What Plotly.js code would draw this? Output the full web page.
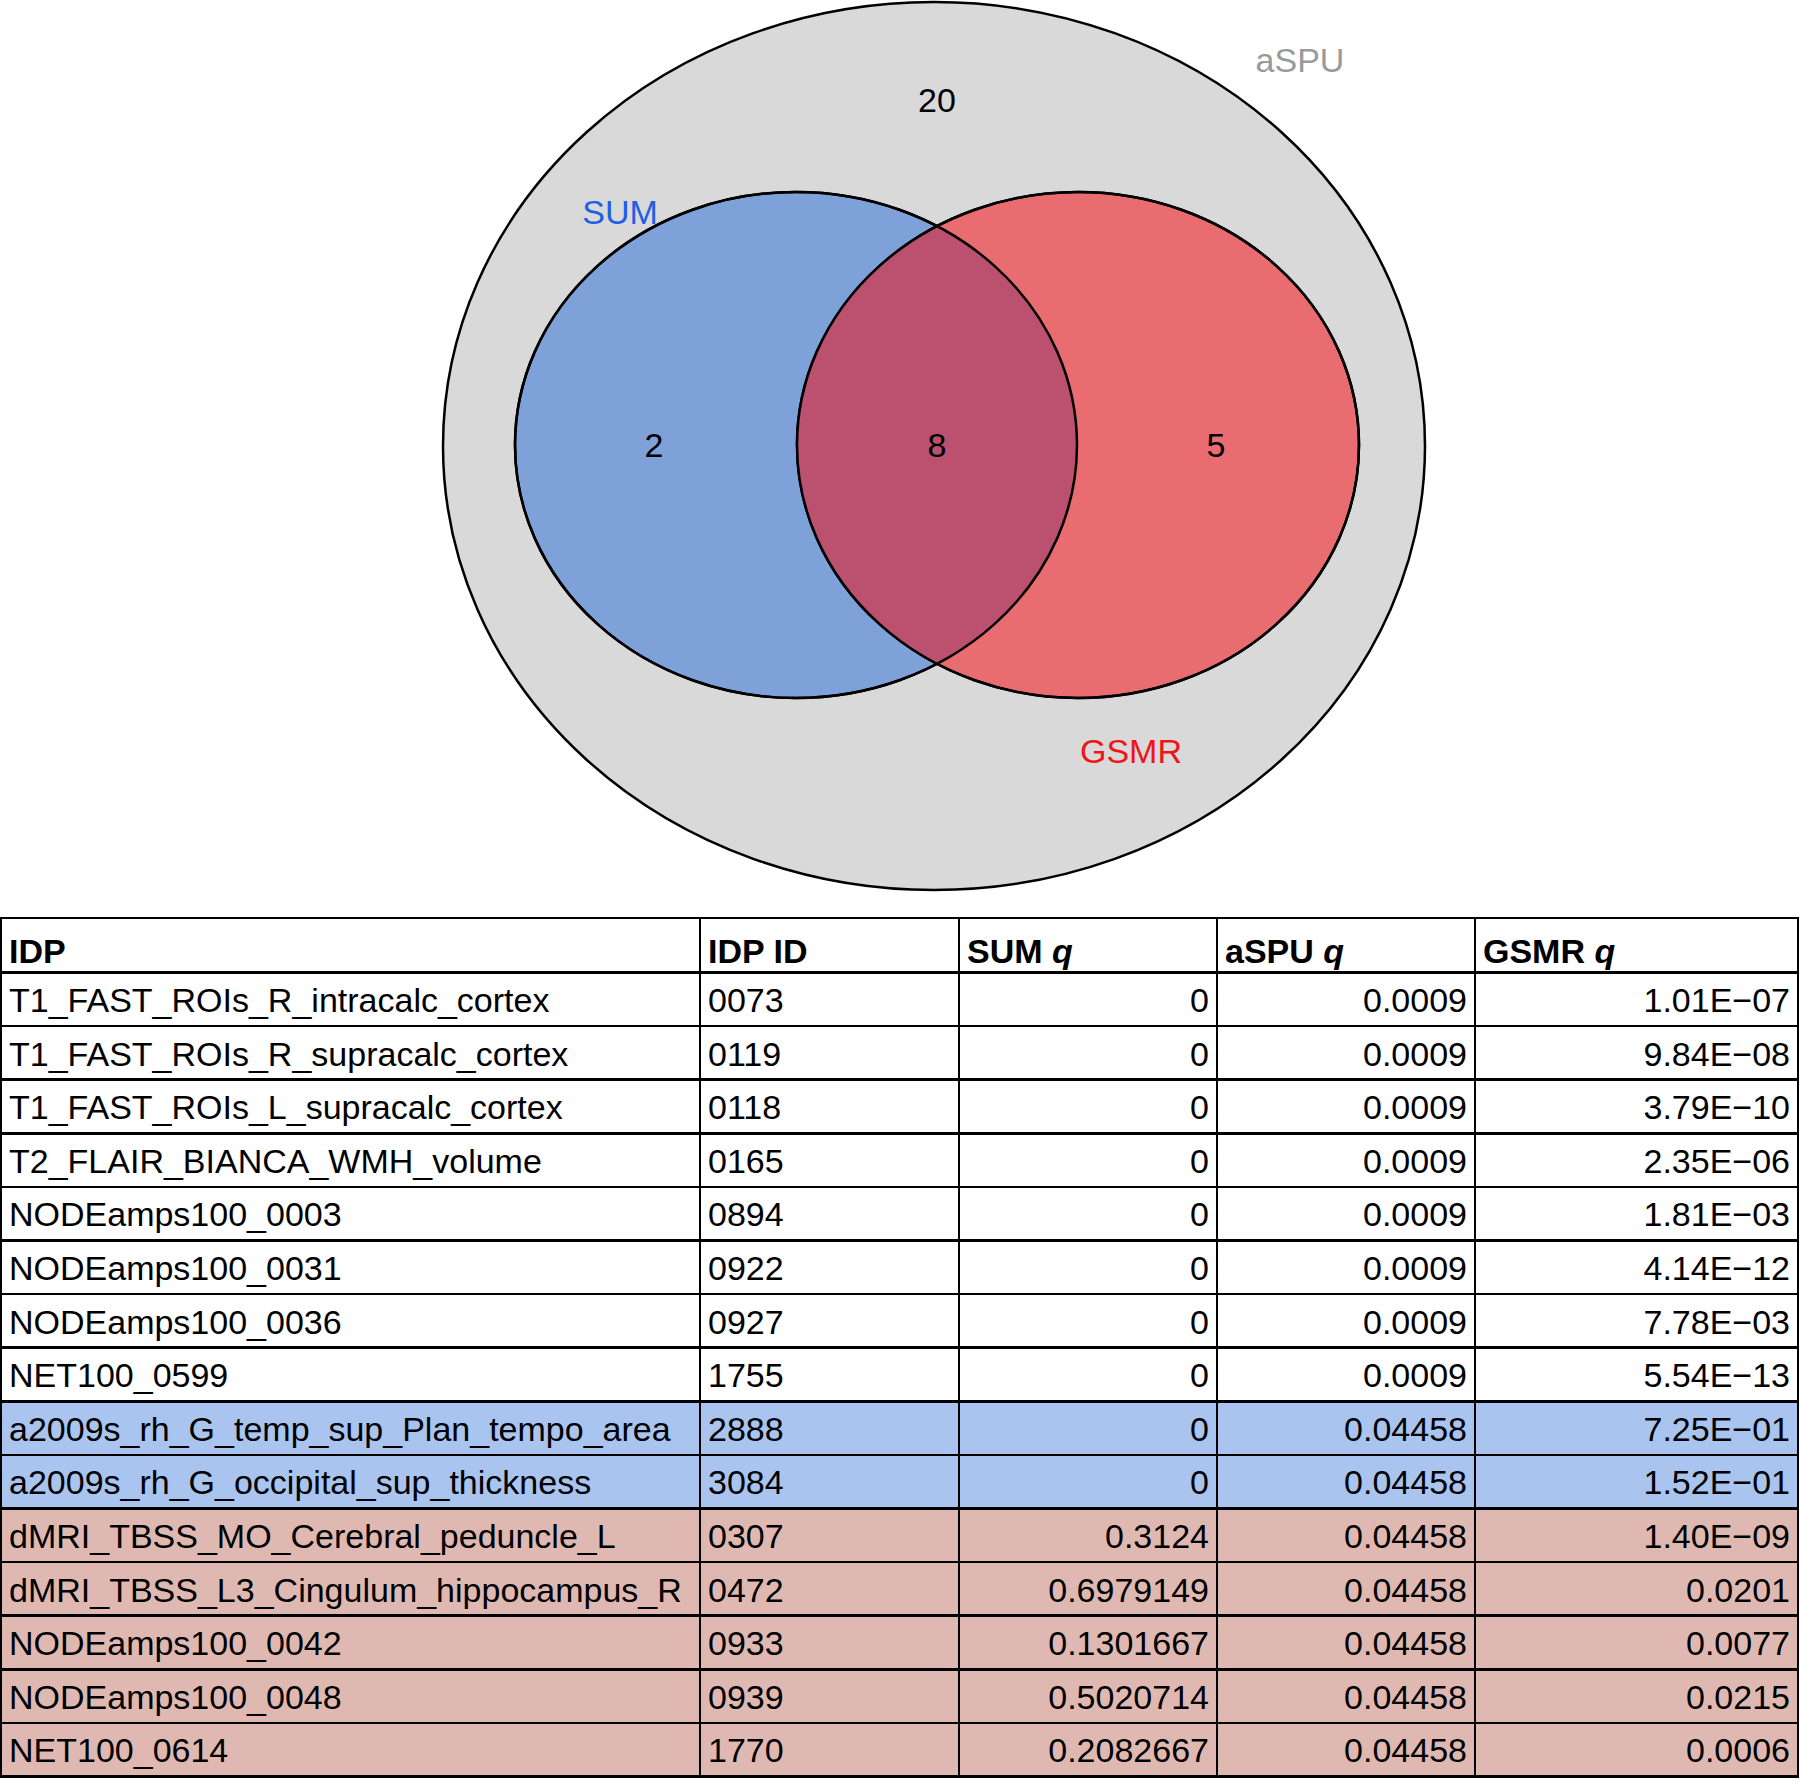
<!DOCTYPE html>
<html>
<head>
<meta charset="utf-8">
<script src="https://cdn.plot.ly/plotly-3.0.1.min.js"></script>
<style>html,body{margin:0;padding:0;background:#fff}#chart{width:1800px;height:1781px}</style>
</head>
<body>
<div id="chart"></div>
<script>
// ---------- DATA ----------
const setNames = ['aSPU', 'SUM', 'GSMR'];
const regionNames = ['aSPU only', 'SUM & aSPU', 'SUM & GSMR & aSPU', 'GSMR & aSPU'];
const regionCounts = [20, 2, 8, 5];

const tableHeaders = ['<b>IDP</b>', '<b>IDP ID</b>', '<b>SUM <i>q</i></b>', '<b>aSPU <i>q</i></b>', '<b>GSMR <i>q</i></b>'];
const idpNames = [
  'T1_FAST_ROIs_R_intracalc_cortex', 'T1_FAST_ROIs_R_supracalc_cortex', 'T1_FAST_ROIs_L_supracalc_cortex',
  'T2_FLAIR_BIANCA_WMH_volume', 'NODEamps100_0003', 'NODEamps100_0031', 'NODEamps100_0036', 'NET100_0599',
  'a2009s_rh_G_temp_sup_Plan_tempo_area', 'a2009s_rh_G_occipital_sup_thickness',
  'dMRI_TBSS_MO_Cerebral_peduncle_L', 'dMRI_TBSS_L3_Cingulum_hippocampus_R',
  'NODEamps100_0042', 'NODEamps100_0048', 'NET100_0614'
];
const idpIds = ['0073', '0119', '0118', '0165', '0894', '0922', '0927', '1755', '2888', '3084', '0307', '0472', '0933', '0939', '1770'];
const sumQ = ['0', '0', '0', '0', '0', '0', '0', '0', '0', '0', '0.3124', '0.6979149', '0.1301667', '0.5020714', '0.2082667'];
const aspuQ = ['0.0009', '0.0009', '0.0009', '0.0009', '0.0009', '0.0009', '0.0009', '0.0009',
  '0.04458', '0.04458', '0.04458', '0.04458', '0.04458', '0.04458', '0.04458'];
const gsmrQ = ['1.01E\u221207', '9.84E\u221208', '3.79E\u221210', '2.35E\u221206', '1.81E\u221203', '4.14E\u221212',
  '7.78E\u221203', '5.54E\u221213', '7.25E\u221201', '1.52E\u221201', '1.40E\u221209', '0.0201', '0.0077', '0.0215', '0.0006'];
const rowGroup = ['all', 'all', 'all', 'all', 'all', 'all', 'all', 'all', 'sum', 'sum', 'gsmr', 'gsmr', 'gsmr', 'gsmr', 'gsmr'];

// ---------- STYLE / LAYOUT CONFIG ----------
const W = 1800, H = 1781, VENN_H = 905;
const FONT = 'Liberation Sans, Arial, sans-serif';
const ell = {
  aSPU: {cx: 934, cy: 446, rx: 491, ry: 444, fill: '#D9D9D9'},
  SUM: {cx: 796, cy: 445, rx: 281, ry: 253, fill: '#7EA1D9'},
  GSMR: {cx: 1078, cy: 445, rx: 281, ry: 253, fill: '#E96D70'}
};
const lensColor = '#BC506F';
const setLabelPos = {aSPU: [1300, 63], SUM: [620, 215], GSMR: [1131, 754]};
const setLabelColor = {aSPU: '#9A9A9A', SUM: '#1F5FE3', GSMR: '#F01515'};
const regionPos = [[937, 103], [654, 448], [937, 448], [1216, 448]];
const groupFill = {all: '#FFFFFF', sum: '#A9C4EF', gsmr: '#DFB9B1'};
const TEXT_SHIFT = 6;

function ellipseShape(e, fill, lineW) {
  return {type: 'circle', xref: 'x', yref: 'y', x0: e.cx - e.rx, x1: e.cx + e.rx, y0: e.cy - e.ry, y1: e.cy + e.ry,
    fillcolor: fill, line: {color: '#000', width: lineW}, layer: 'below'};
}
// lens (intersection) path
function lensPath() {
  const a = ell.SUM, b = ell.GSMR;
  const xm = (a.cx + b.cx) / 2;
  const dy = a.ry * Math.sqrt(1 - Math.pow((xm - a.cx) / a.rx, 2));
  const N = 120;
  let pts = [];
  for (let i = 0; i <= N; i++) {
    const y = -dy + 2 * dy * i / N;
    pts.push([a.cx + a.rx * Math.sqrt(Math.max(0, 1 - Math.pow(y / a.ry, 2))), a.cy + y]);
  }
  for (let i = N; i >= 0; i--) {
    const y = -dy + 2 * dy * i / N;
    pts.push([b.cx - b.rx * Math.sqrt(Math.max(0, 1 - Math.pow(y / b.ry, 2))), b.cy + y]);
  }
  return 'M' + pts.map(p => p[0].toFixed(2) + ',' + p[1].toFixed(2)).join('L') + 'Z';
}

const shapes = [
  ellipseShape(ell.aSPU, ell.aSPU.fill, 2.5),
  ellipseShape(ell.SUM, ell.SUM.fill, 2.5),
  ellipseShape(ell.GSMR, ell.GSMR.fill, 2.5),
  {type: 'path', xref: 'x', yref: 'y', path: lensPath(), fillcolor: lensColor, line: {width: 0}, layer: 'below'},
  ellipseShape(ell.SUM, 'rgba(0,0,0,0)', 2.5),
  ellipseShape(ell.GSMR, 'rgba(0,0,0,0)', 2.5)
];

const countTrace = {
  type: 'scatter', mode: 'text', xaxis: 'x', yaxis: 'y',
  x: regionPos.map(p => p[0]), y: regionPos.map(p => p[1]),
  text: regionCounts.map(String), customdata: regionNames,
  textposition: 'middle center', textfont: {family: FONT, size: 34, color: '#000'},
  hoverinfo: 'skip', showlegend: false
};
const labelTrace = {
  type: 'scatter', mode: 'text', xaxis: 'x', yaxis: 'y',
  x: setNames.map(n => setLabelPos[n][0]), y: setNames.map(n => setLabelPos[n][1]),
  text: setNames, textposition: 'middle center',
  textfont: {family: FONT, size: 34, color: setNames.map(n => setLabelColor[n])},
  hoverinfo: 'skip', showlegend: false
};

const rowFills = rowGroup.map(g => groupFill[g]);
const tableTop = 918, tableBottom = 1779;
const tableTrace = {
  type: 'table',
  domain: {x: [1 / W, 1798 / W], y: [1 - tableBottom / H, 1 - tableTop / H]},
  columnwidth: [699, 259, 258, 258, 323],
  header: {
    values: tableHeaders, align: 'left', height: 54.5,
    fill: {color: '#FFFFFF'}, line: {color: '#000', width: 2.5},
    font: {family: FONT, size: 34, color: '#000'}
  },
  cells: {
    values: [idpNames, idpIds, sumQ, aspuQ, gsmrQ],
    align: ['left', 'left', 'right', 'right', 'right'], height: 53.6,
    fill: {color: [rowFills, rowFills, rowFills, rowFills, rowFills]},
    line: {color: '#000', width: 2.5},
    font: {family: FONT, size: 34, color: '#000'}
  }
};

const layout = {
  width: W, height: H, margin: {l: 0, r: 0, t: 0, b: 0},
  paper_bgcolor: '#fff', plot_bgcolor: 'rgba(0,0,0,0)', showlegend: false,
  xaxis: {domain: [0, 1], range: [0, W], visible: false, fixedrange: true},
  yaxis: {domain: [1 - VENN_H / H, 1], range: [VENN_H, 0], visible: false, fixedrange: true},
  shapes: shapes
};

Plotly.newPlot('chart', [countTrace, labelTrace, tableTrace], layout, {staticPlot: true, displayModeBar: false})
  .then(function (gd) {
    // vertically centre table text inside its rows
    gd.querySelectorAll('.cell-text').forEach(function (el) {
      const t = el.getAttribute('transform') || '';
      el.setAttribute('transform', t + ' translate(0,' + TEXT_SHIFT + ')');
    });
  });
</script>
</body>
</html>
